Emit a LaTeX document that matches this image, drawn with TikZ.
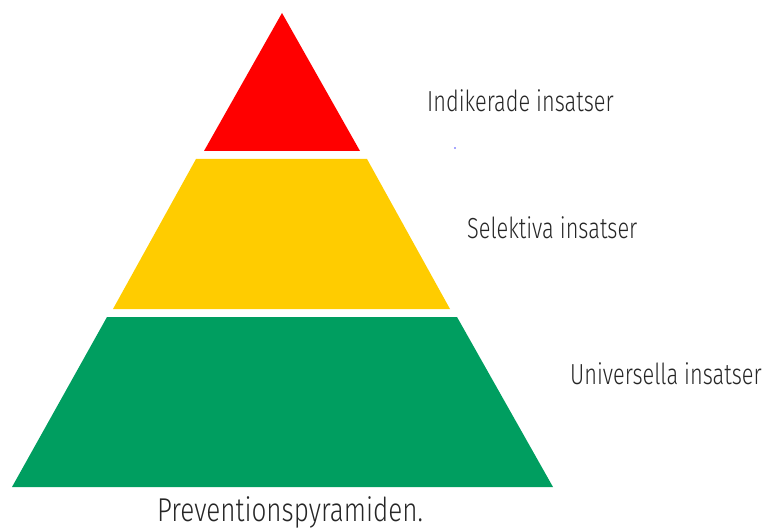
\documentclass[tikz,border=0pt]{standalone}
\usepackage{fontspec}
\setmainfont{Fira Sans Light}[FakeStretch=0.75]
\newfontfamily\capfont{Fira Sans Light}[FakeStretch=0.79]
\definecolor{pred}{RGB}{255,0,0}
\definecolor{pyellow}{RGB}{255,204,0}
\definecolor{pgreen}{RGB}{0,158,96}
\begin{document}
\begin{tikzpicture}[x=1pt,y=-1pt,
  lbl/.style={anchor=base west,inner sep=0pt,font=\fontsize{29}{34}\selectfont,text=black!85}]
\useasboundingbox (0,0) rectangle (762,529);
\fill[pred] (282,13) -- (360,151) -- (204,151) -- cycle;
\fill[pyellow] (196,159) -- (367,159) -- (450,309) -- (113,309) -- cycle;
\fill[pgreen] (107,317) -- (457,317) -- (553,487) -- (12,487) -- cycle;
\node[lbl] (ind) at (427,112) {Indikerade insatser};
\node[lbl] (sel) at (467,238) {Selektiva insatser};
\node[lbl] (uni) at (570,384) {Universella insatser};
\node[anchor=base,inner sep=0pt,font=\capfont\fontsize{33}{39}\selectfont,text=black!85] (cap) at (290,521) {Preventionspyramiden.};
\fill[blue!70] (455,148) circle (0.8);
\end{tikzpicture}
\end{document}
